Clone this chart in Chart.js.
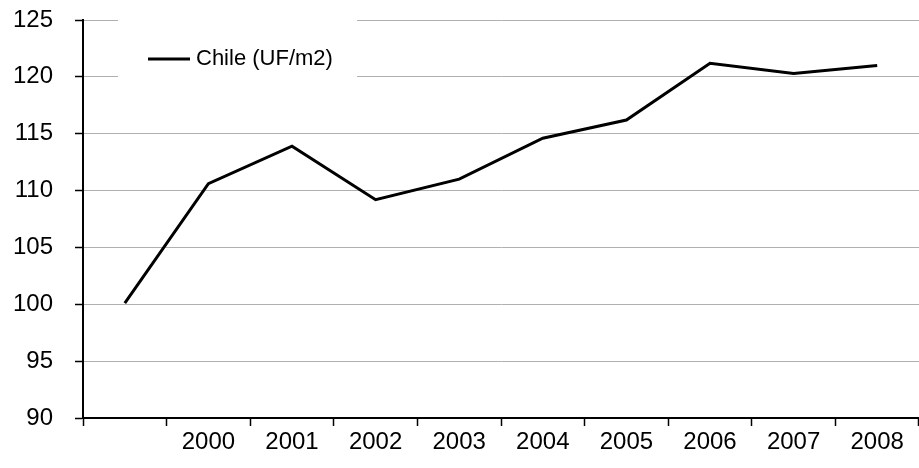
<!DOCTYPE html>
<html>
<head>
<meta charset="utf-8">
<script src="https://cdn.jsdelivr.net/npm/chart.js@4"></script>
<style>
  html, body { margin: 0; padding: 0; background: #fff; }
  #wrap { width: 919px; height: 468px; }
</style>
</head>
<body>
<div id="wrap"><canvas id="chart"></canvas></div>
<script>
// categories (first one has no label)
const years = ['', '2000', '2001', '2002', '2003', '2004', '2005', '2006', '2007', '2008'];
const chileValues = [100.1, 110.6, 113.9, 109.2, 111.0, 114.6, 116.2, 121.2, 120.3, 121.0];
const yTicks = [90, 95, 100, 105, 110, 115, 120, 125];
const seriesLabel = 'Chile (UF/m2)';

const FONT = '"Liberation Sans", Arial, sans-serif';

// legend drawn inside the plot, on a white box that hides the gridlines
const insideLegend = {
    id: 'insideLegend',
    beforeDatasetsDraw(chart) {
        const ctx = chart.ctx;
        const area = chart.chartArea;
        const x0 = area.left + 35, y0 = area.top - 2;
        ctx.save();
        ctx.fillStyle = '#fff';
        ctx.fillRect(x0, y0, 239, 60);
        ctx.strokeStyle = '#000';
        ctx.lineWidth = 3;
        ctx.beginPath();
        ctx.moveTo(x0 + 30, y0 + 41);
        ctx.lineTo(x0 + 72, y0 + 41);
        ctx.stroke();
        ctx.fillStyle = '#000';
        ctx.font = '22px ' + FONT;
        ctx.textBaseline = 'middle';
        ctx.fillText(chart.data.datasets[0].label, x0 + 78, y0 + 41);
        ctx.restore();
    }
};

new Chart(document.getElementById('chart').getContext('2d'), {
    type: 'line',
    data: {
        labels: years,
        datasets: [{
            label: seriesLabel,
            data: chileValues,
            borderColor: '#000',
            borderWidth: 3,
            pointRadius: 0,
            tension: 0,
            fill: false
        }]
    },
    options: {
        responsive: true,
        maintainAspectRatio: false,
        animation: false,
        layout: { padding: { top: 20, right: 0, left: 0, bottom: 0 } },
        plugins: {
            legend: { display: false },
            tooltip: { enabled: false }
        },
        scales: {
            x: {
                offset: true,
                grid: {
                    offset: true,
                    drawOnChartArea: false,
                    drawTicks: true,
                    tickLength: 8,
                    tickColor: '#000',
                    tickWidth: 1.5
                },
                border: { color: '#000', width: 2 },
                ticks: {
                    color: '#000',
                    font: { size: 24, family: FONT },
                    padding: 2,
                    maxRotation: 0,
                    autoSkip: false
                },
                afterFit(scale) {
                    scale.height = 50;
                    scale.paddingLeft = 0;
                    scale.paddingRight = 0;
                }
            },
            y: {
                min: 90,
                max: 125,
                afterBuildTicks(scale) {
                    scale.ticks = yTicks.map(v => ({ value: v }));
                },
                grid: {
                    color: '#b0b0b0',
                    lineWidth: 1,
                    borderDash: [1, 1],
                    drawTicks: true,
                    tickLength: 8,
                    tickColor: '#000',
                    tickWidth: 1.5,
                    tickBorderDash: []
                },
                border: { color: '#000', width: 2 },
                ticks: {
                    color: '#000',
                    font: { size: 24, family: FONT },
                    padding: 22
                },
                afterFit(scale) {
                    scale.width = 83;
                    scale.paddingTop = 0;
                    scale.paddingBottom = 0;
                }
            }
        }
    },
    plugins: [insideLegend]
});
</script>
</body>
</html>
